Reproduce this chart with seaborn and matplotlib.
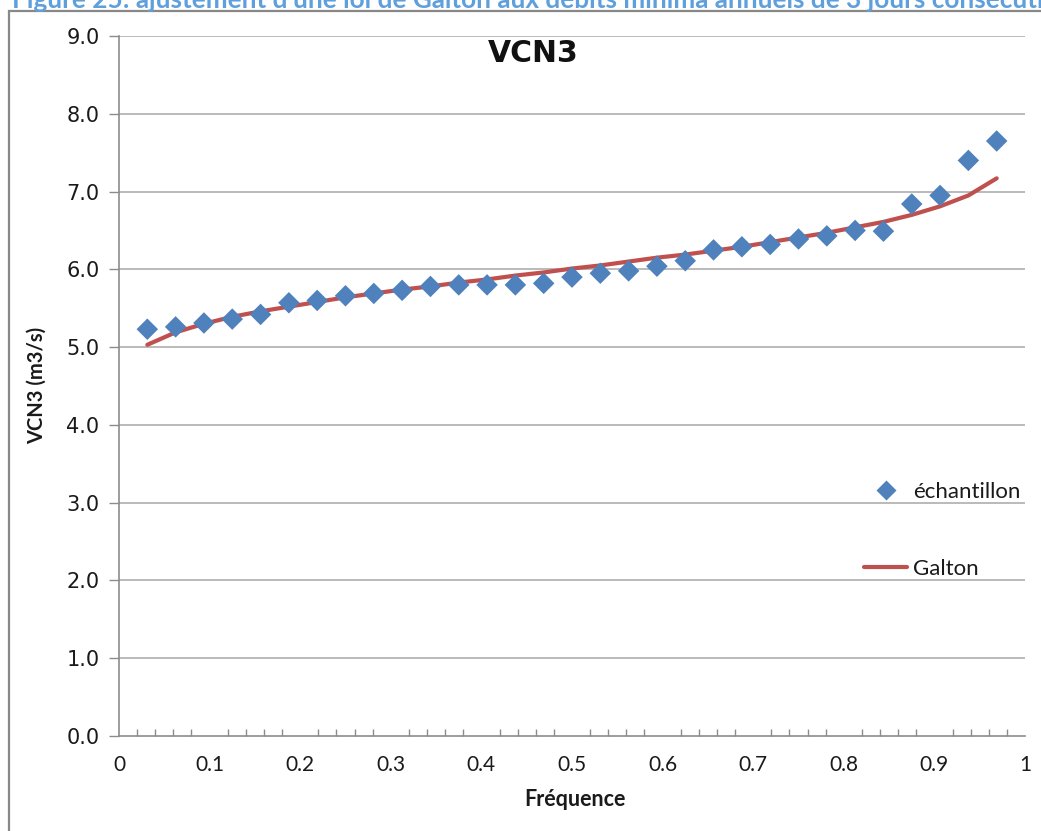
import numpy as np
import pandas as pd
import matplotlib
matplotlib.use("Agg")
import matplotlib.pyplot as plt
import matplotlib.ticker as mticker
from matplotlib.patches import Rectangle
from matplotlib.lines import Line2D
import seaborn as sns

# Empirical frequency of each ranked annual minimum (i / (n + 1), n = 31)
frequence = [0.03125, 0.0625, 0.09375, 0.125, 0.15625, 0.1875, 0.21875, 0.25,
             0.28125, 0.3125, 0.34375, 0.375, 0.40625, 0.4375, 0.46875, 0.5,
             0.53125, 0.5625, 0.59375, 0.625, 0.65625, 0.6875, 0.71875, 0.75,
             0.78125, 0.8125, 0.84375, 0.875, 0.90625, 0.9375, 0.96875]

# Observed VCN3 (m3/s), sorted
echantillon = [5.23, 5.26, 5.31, 5.36, 5.42, 5.57, 5.60, 5.66, 5.69, 5.73,
               5.78, 5.80, 5.80, 5.80, 5.82, 5.90, 5.95, 5.98, 6.04, 6.11,
               6.25, 6.29, 6.32, 6.39, 6.43, 6.50, 6.49, 6.84, 6.95, 7.40, 7.65]

# Fitted Galton (log-normal) quantiles
galton = [5.03, 5.19, 5.30, 5.39, 5.46, 5.52, 5.58, 5.64, 5.69, 5.74,
          5.78, 5.83, 5.87, 5.92, 5.96, 6.01, 6.05, 6.10, 6.15, 6.19,
          6.24, 6.29, 6.35, 6.41, 6.47, 6.54, 6.61, 6.70, 6.81, 6.95, 7.17]

x_ticks = [0, 0.1, 0.2, 0.3, 0.4, 0.5, 0.6, 0.7, 0.8, 0.9, 1]
x_tick_labels = ["0", "0.1", "0.2", "0.3", "0.4", "0.5", "0.6", "0.7", "0.8", "0.9", "1"]
y_ticks = [0, 1, 2, 3, 4, 5, 6, 7, 8, 9]
y_tick_labels = ["0.0", "1.0", "2.0", "3.0", "4.0", "5.0", "6.0", "7.0", "8.0", "9.0"]

df = pd.DataFrame({"Fréquence": frequence, "échantillon": echantillon, "Galton": galton})

sns.set_theme(style="white")
plt.rcParams["font.family"] = ["Lato", "DejaVu Sans"]

W, H = 1041, 831
fig = plt.figure(figsize=(W / 100, H / 100), dpi=100)
ax = fig.add_axes([119 / W, 1 - 736 / H, (1025 - 119) / W, (736 - 36) / H])

GRID = "#B4B4B4"
BLUE = "#4F81BD"
RED = "#C0504D"
TEXT = "#1a1a1a"

ax.set_axisbelow(True)
for yv in y_ticks[1:]:
    ax.axhline(yv, color=GRID, lw=1.3, zorder=0)

sns.lineplot(data=df, x="Fréquence", y="Galton", ax=ax, color=RED, lw=3.0,
             zorder=2, legend=False)
sns.scatterplot(data=df, x="Fréquence", y="échantillon", ax=ax, color=BLUE,
                marker="D", s=120, edgecolor="none", zorder=3, legend=False)

ax.set_xlim(0, 1)
ax.set_ylim(0, 9)
ax.set_xticks(x_ticks)
ax.set_xticklabels(x_tick_labels)
ax.set_yticks(y_ticks)
ax.set_yticklabels(y_tick_labels)
ax.xaxis.set_minor_locator(mticker.MultipleLocator(0.02))

for side in ["top", "right"]:
    ax.spines[side].set_visible(False)
for side in ["left", "bottom"]:
    ax.spines[side].set_color("#8C8C8C")
    ax.spines[side].set_linewidth(1.2)

ax.tick_params(axis="x", which="major", direction="inout", length=10, width=1.0,
               color="#8C8C8C", pad=9, labelsize=15, labelcolor=TEXT)
ax.tick_params(axis="x", which="minor", direction="in", length=5, width=1.0,
               color="#8C8C8C", bottom=True)
ax.tick_params(axis="y", which="major", direction="out", length=7, width=1.0,
               color="#8C8C8C", pad=7, labelsize=15, labelcolor=TEXT,
               left=True)
for lab in ax.get_yticklabels():
    lab.set_fontfamily("DejaVu Sans")

ax.set_xlabel("")
ax.set_ylabel("")
fig.text(575 / W, 1 - 806 / H, "Fréquence", ha="center", va="baseline",
         fontsize=15.5, fontweight="bold", color=TEXT)
fig.text(43 / W, 1 - 385 / H, "VCN3 (m3/s)", ha="center", va="baseline",
         rotation=90, rotation_mode="anchor", fontsize=14.5, fontweight="bold",
         color=TEXT)

# Chart title
fig.text(533 / W, 1 - 62 / H, "VCN3", ha="center", va="baseline",
         fontsize=21.5, fontweight="bold", family="DejaVu Sans", color="#111111")

# Caption above the chart frame
fig.text(12 / W, 1 - 8 / H,
         "Figure 25: ajustement d'une loi de Galton aux débits minima annuels de 3 jours consécutifs",
         ha="left", va="baseline", fontsize=18.8, fontweight="bold", color="#5FA0DC")

# Chart frame
fig.add_artist(Rectangle((9 / W, -0.2), 1.2, 1.2 - 11 / H, transform=fig.transFigure,
                         fill=False, edgecolor="#888888", lw=1.6, clip_on=False))

# Legend
handles = [
    Line2D([], [], marker="D", color=BLUE, linestyle="none", markersize=10.5,
           markeredgecolor="none"),
    Line2D([], [], color=RED, lw=3.0),
]
leg = ax.legend(handles, ["échantillon", "Galton"], loc="upper left",
                bbox_to_anchor=(864 / W, 1 - 482 / H), bbox_transform=fig.transFigure,
                frameon=False, fontsize=16, handlelength=1.95, handletextpad=0.25,
                labelspacing=2.55, borderpad=0, borderaxespad=0)
for t in leg.get_texts():
    t.set_color(TEXT)

fig.savefig("out.png", dpi=100)
